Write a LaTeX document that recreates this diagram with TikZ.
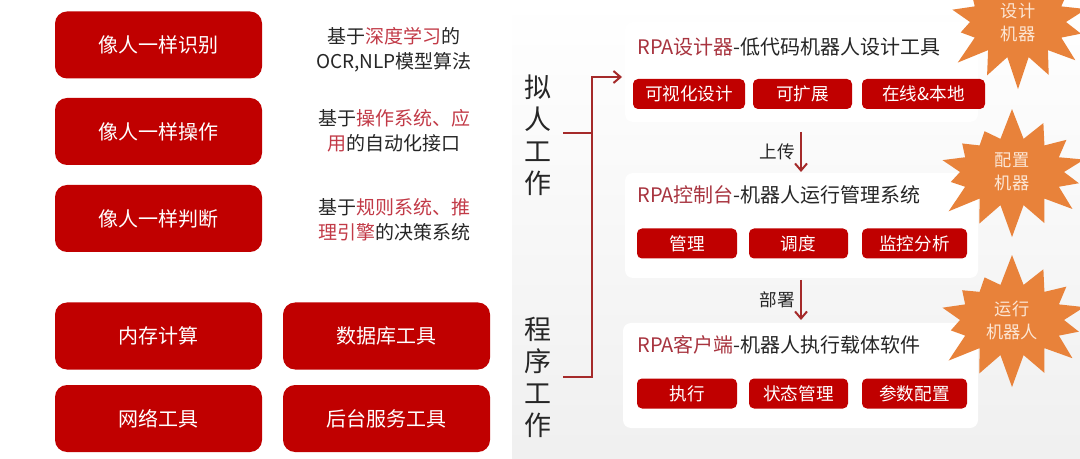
\documentclass[tikz,border=0pt]{standalone}
\usepackage{fontspec}
\setmainfont{Noto Sans CJK SC}
\usetikzlibrary{shapes.symbols,arrows.meta}
\definecolor{rpabox}{HTML}{C00000}
\definecolor{rpatitle}{HTML}{A8343F}
\definecolor{rpaaccent}{HTML}{C23A47}
\definecolor{rpaink}{HTML}{262626}
\definecolor{rpaline}{HTML}{A52A2A}
\definecolor{rpaburst}{HTML}{E8823A}
\definecolor{rpaburstink}{HTML}{FCE6D4}
\tikzset{
  bigbox/.style={fill=rpabox, rounded corners=6pt, text=white, inner sep=0pt,
    minimum width=103.5pt, minimum height=33.5pt, font=\fontsize{10}{12}\selectfont},
  chip/.style={fill=rpabox, rounded corners=2.5pt, text=white, inner sep=0pt,
    minimum height=15pt, font=\fontsize{8.8}{10}\selectfont},
  desctext/.style={text=rpaink, align=center, font=\fontsize{9.5}{12.5}\selectfont},
  titletext/.style={text=rpaink, anchor=west, inner sep=0pt, font=\fontsize{10}{12}\selectfont},
  vlabel/.style={text=rpaink, align=center, font=\fontsize{13.5}{16}\selectfont},
  steplabel/.style={text=rpaink, inner sep=2.5pt, font=\fontsize{8.8}{10}\selectfont},
  bracketline/.style={rpaline, line width=1pt},
  flowarrow/.style={rpaline, line width=1pt, -{Straight Barb[length=3.5pt,width=6pt]}},
  burst/.style={shape=starburst, fill=rpaburst, text=rpaburstink, align=center,
    starburst points=14, starburst point height=16pt, random starburst=7,
    inner sep=0pt, font=\fontsize{8.6}{11.5}\selectfont}
}
\newcommand{\skillbox}[3]{\node[bigbox] (#1) at (#2) {#3};}
\newcommand{\chipbox}[4]{\node[chip, minimum width=#3] (#1) at (#2) {#4};}

\begin{document}
\begin{tikzpicture}[x=0.5pt, y=-0.5pt]

  \useasboundingbox (0,0) rectangle (1080,459);
  \clip (0,0) rectangle (1080,459);
  \fill[white] (0,0) rectangle (1080,459);
  \shade[top color=white, bottom color=black!6] (512,0) rectangle (1080,459);
  \fill[white, rounded corners=4pt] (625,22) rectangle (978,122);
  \fill[white, rounded corners=4pt] (625,173) rectangle (978,278);
  \fill[white, rounded corners=4pt] (623,323) rectangle (978,428);

  \skillbox{recog}{158.5,45}{像人一样识别}
  \skillbox{operate}{158.5,131.5}{像人一样操作}
  \skillbox{judge}{158.5,218.5}{像人一样判断}
  \skillbox{memcalc}{158.5,336}{内存计算}
  \skillbox{dbtool}{386.5,336}{数据库工具}
  \skillbox{nettool}{158.5,418.5}{网络工具}
  \skillbox{bgtool}{386.5,418.5}{后台服务工具}

  \node[desctext] (recog-desc) at (394,49.5) {基于\textcolor{rpaaccent}{深度学习}的\\OCR,NLP模型算法};
  \node[desctext] (operate-desc) at (394,130.5) {基于\textcolor{rpaaccent}{操作系统、应}\\\textcolor{rpaaccent}{用}的自动化接口};
  \node[desctext] (judge-desc) at (394,220) {基于\textcolor{rpaaccent}{规则系统、推}\\\textcolor{rpaaccent}{理引擎}的决策系统};

  \node[vlabel] (mimic) at (538,135.5) {拟\\人\\工\\作};
  \node[vlabel] (program) at (538,377.5) {程\\序\\工\\作};

  \coordinate (mimic-stub) at (563,133);
  \coordinate (program-stub) at (563,377);
  \coordinate (spine-top) at (592,77);
  \coordinate (spine-bot) at (592,377);
  \coordinate (designer-in) at (622,77);
  \draw[bracketline] (mimic-stub) -- (mimic-stub -| spine-top);
  \draw[flowarrow] (program-stub) -- (spine-bot) -- (spine-top) -- (designer-in);

  \node[titletext] (designer) at (637,47) {\textcolor{rpatitle}{RPA设计器}-低代码机器人设计工具};
  \chipbox{visual}{689,94}{56pt}{可视化设计}
  \chipbox{extend}{802.5,94}{49.5pt}{可扩展}
  \chipbox{online}{923.5,94}{61.5pt}{在线\&本地}

  \coordinate (upload-top) at (801,132);
  \coordinate (upload-bot) at (801,172);
  \draw[flowarrow] (upload-top) -- node[steplabel, left] (upload) {上传} (upload-bot);

  \node[titletext] (console) at (637,195) {\textcolor{rpatitle}{RPA控制台}-机器人运行管理系统};
  \chipbox{manage}{687,243.5}{50pt}{管理}
  \chipbox{schedule}{798.5,243.5}{49.5pt}{调度}
  \chipbox{monitor}{914.5,243.5}{52.5pt}{监控分析}

  \coordinate (deploy-top) at (801,280);
  \coordinate (deploy-bot) at (801,320);
  \draw[flowarrow] (deploy-top) -- node[steplabel, left] (deploy) {部署} (deploy-bot);

  \node[titletext] (client) at (637,345) {\textcolor{rpatitle}{RPA客户端}-机器人执行载体软件};
  \chipbox{execute}{687,393.5}{50pt}{执行}
  \chipbox{state}{798.5,393.5}{49.5pt}{状态管理}
  \chipbox{params}{914.5,393.5}{52.5pt}{参数配置}

  \node[burst, minimum width=80pt, minimum height=68pt] (burst-design) at (1018,22) {设计\\机器};
  \node[burst, minimum width=84pt, minimum height=66pt] (burst-config) at (1012,172) {配置\\机器};
  \node[burst, minimum width=84pt, minimum height=68pt] (burst-run) at (1012,320) {运行\\机器人};

\end{tikzpicture}
\end{document}
